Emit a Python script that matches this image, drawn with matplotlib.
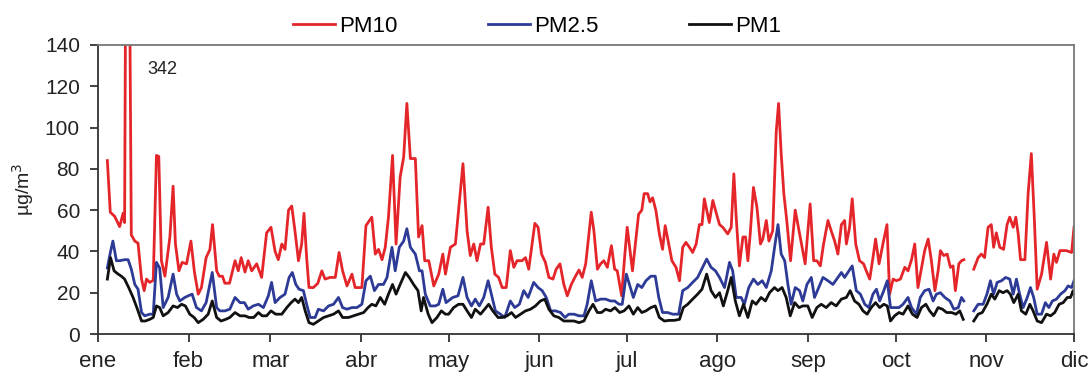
import numpy as np
import matplotlib
matplotlib.use("Agg")
import matplotlib.pyplot as plt

plt.rcParams['font.family'] = ['Liberation Sans', 'DejaVu Sans']

months = ["ene", "feb", "mar", "abr", "may", "jun", "jul", "ago", "sep", "oct", "nov", "dic"]
month_start_day = [0, 31, 59, 90, 120, 151, 181, 212, 243, 273, 304, 334]

nan = float('nan')

pm10_day = [3.2, 4.2, 5.7, 7.4, 8.6, 9.1, 10.0, 11.4, 12.6, 13.7, 14.9, 15.8, 16.6, 17.7, 18.9,
            20.0, 20.8, 21.7, 22.9, 24.6, 25.7, 26.5, 27.7, 28.8, 30.3, 31.8, 33.0, 34.3, 35.4,
            37.0, 38.3, 39.2, 40.6, 41.5, 42.6, 43.4, 45.0, 46.9, 48.0, 49.0, 50.3, 51.4, 52.6,
            54.3, 56.0, 57.7, 59.2, 60.6, 61.7, 62.9, 64.0, 65.2, 66.3, 67.4, 68.6, 69.7, 70.5,
            71.4, 72.2, 73.7, 75.2, 76.6, 77.7, 79.4, 81.2, 82.5, 83.7, 85.2, 86.9, 88.0, 90.3,
            91.7, 93.7, 94.9, 96.0, 97.2, 98.3, 99.4, 100.8, 102.0, 103.4, 104.6, 105.7, 106.9,
            108.6, 109.7, 110.9, 111.8, 113.2, 114.9, 116.6, 118.0, 118.9, 120.6, 122.3, 124.9,
            126.3, 127.4, 128.6, 129.7, 130.9, 132.0, 133.5, 134.6, 135.8, 137.1, 138.3, 139.7,
            141.1, 142.3, 143.4, 145.1, 146.3, 147.4, 149.5, 150.6, 151.8, 153.1, 154.3, 155.7,
            156.8, 158.1, 159.4, 160.6, 162.0, 163.4, 164.6, 165.7, 166.9, 168.8, 169.7, 170.9,
            172.0, 173.1, 174.3, 175.7, 176.8, 177.7, 179.2, 180.2, 181.1, 182.9, 183.9, 185.0,
            186.1, 186.9, 188.1, 188.9, 189.8, 190.9, 192.1, 193.2, 194.1, 195.3, 196.4, 197.8,
            199.0, 200.1, 201.2, 202.4, 203.5, 204.7, 205.8, 206.7, 207.5, 208.3, 209.2, 210.4,
            211.5, 212.7, 213.8, 215.5, 216.7, 217.6, 218.4, 219.5, 220.7, 221.6, 222.4, 223.2,
            224.3, 225.5, 226.7, 227.5, 228.7, 229.6, 230.9, 232.1, 232.9, 233.8, 234.7, 235.7,
            237.0, 238.6, 239.9, 240.7, 242.0, 243.7, 244.9, 246.0, 247.2, 248.3, 249.8, 250.9,
            252.1, 253.2, 254.4, 255.5, 256.1, 257.2, 258.1, 259.3, 260.6, 262.0, 262.9, 264.1,
            265.2, 266.1, 267.3, 268.6, 270.0, 270.9, 272.1, 273.2, 274.6, 276.1, 277.2, 278.4,
            279.5, 280.6, 282.1, 282.9, 284.1, 285.2, 286.4, 287.5, 288.3, 289.4, 290.6, 291.7,
            292.6, 293.4, 294.6, 295.5, 296.3, 298.0, 299.7, 301.2, 302.3, 303.4, 304.6, 305.7,
            306.5, 307.4, 308.6, 309.9, 311.1, 312.0, 313.2, 314.1, 314.9, 315.7, 317.2, 318.3,
            319.4, 320.4, 321.4, 322.9, 324.6, 326.0, 327.1, 328.0, 329.2, 331.4, 333.2, 334.0]
pm10_val = [84, 59, 57, 52, 58.5, 54, 342, 48, 45, 44, 26.6, 21, 26.6, 25, 26,
            86.5, 86, 35.5, 28, 47, 71.6, 43.6, 30.6, 34.7, 34, 45, 30, 19.3, 22.5,
            37, 41, 53, 30.6, 28, 28, 24.6, 24.6, 35.5, 30.6, 37, 30, 35.5, 30.6,
            34, 27.4, 49, 51.7, 40, 36, 43.6, 41, 60, 62, 50, 35.5, 43.6, 58.5,
            37, 22.5, 22.5, 24.5, 30.6, 26.6, 27.4, 27.4, 39.5, 30.6, 23.3, 29, 22.5, 22.5,
            52.5, 56.6, 38.7, 41, 36, 42, 56.6, 86.5, 43.6, 76, 85.7, 111.7, 85,
            85, 47, 52.5, 35.5, 35.5, 23.3, 29, 38.7, 29, 42, 43.6, 82.5,
            50, 38, 43.6, 35.5, 43.6, 43.6, 61.4, 42, 29, 27.4, 22.5, 22.5,
            40.4, 32.3, 35.5, 35.5, 37, 31.4, 53.6, 51.7, 38.7, 34.7, 27.4, 26.6,
            31.4, 34, 24.1, 18.5, 24.1, 28, 31, 27.4, 34, 59, 50, 31.4,
            34, 35.5, 32.3, 42.8, 31.4, 30.6, 18.5, 37, 51.7, 30.6, 43.6, 58,
            60, 68, 68, 64, 66, 60, 48.5, 41, 52.5, 43.6, 35.5, 32.3,
            25.8, 42, 44.4, 42, 39.5, 43.6, 53, 53, 65.5, 60, 54, 64.7,
            59, 53, 51.7, 48.5, 51.7, 77.6, 56.6, 33, 47, 47, 35.5, 48.5,
            71, 61.4, 43.6, 46, 55, 45, 50, 98, 111.7, 87.4, 68, 55,
            35.5, 60, 50, 43.6, 34, 63, 35.5, 35.5, 33, 43.6, 55, 50,
            45, 38.7, 53, 55, 43.6, 51.7, 65.5, 43.6, 35.5, 34, 30.6, 26.6,
            37, 46, 34, 43.6, 53, 19.3, 26.6, 25.8, 26.6, 32.3, 30.6, 36,
            43.6, 22.5, 34, 40.4, 46, 35.5, 21, 30.6, 40.4, 38, 38.7, 32.3,
            33, 21, 34, 35.5, 36, nan, 31.4, 37, 38.7, 37, 51.7, 53,
            42, 49, 42, 41, 53, 56.6, 51.7, 56.6, 48.5, 36, 36, 68,
            87.4, 56.6, 21.7, 29, 44.4, 26.6, 38.7, 34.7, 40.4, 40.4, 39.5, 51.7]

pm25_day = [3.2, 4.3, 5.1, 6.3, 7.4, 9.1, 10.3, 11.4, 12.6, 13.7, 14.9, 16.0, 17.7, 18.9,
            20.0, 21.1, 22.3, 24.0, 25.7, 26.9, 28.0, 29.7, 30.9, 32.2, 33.7, 35.4, 37.0, 39.1,
            40.6, 41.7, 43.4, 45.1, 46.9, 48.6, 50.1, 51.4, 53.1, 54.9, 56.6, 58.3, 59.4, 60.6,
            62.3, 64.0, 65.4, 66.5, 67.7, 68.8, 70.3, 71.4, 72.6, 74.3, 75.4, 77.2, 78.9, 80.6,
            82.3, 83.7, 85.2, 86.9, 88.6, 90.3, 91.7, 93.2, 94.6, 96.0, 97.7, 98.9, 100.6, 101.7,
            103.1, 104.6, 105.7, 106.9, 108.6, 110.0, 110.9, 112.0, 113.7, 115.4, 116.6, 118.0,
            119.1, 121.4, 123.2, 124.9, 126.3, 127.8, 129.1, 130.5, 132.0, 133.5, 134.6, 136.0,
            137.7, 139.2, 141.1, 142.6, 144.2, 145.7, 147.2, 149.1, 150.6, 152.0, 153.4, 154.9,
            156.6, 158.3, 159.8, 161.1, 162.9, 164.6, 166.3, 167.4, 168.8, 170.3, 172.0, 173.7,
            175.4, 176.8, 178.3, 179.4, 180.8, 183.2, 184.7, 186.1, 187.5, 189.2, 190.7, 191.9,
            193.2, 194.9, 196.7, 198.7, 200.1, 201.8, 203.5, 205.2, 206.9, 208.3, 209.8, 211.3,
            212.7, 214.4, 216.1, 217.2, 218.4, 220.1, 221.2, 222.7, 224.3, 225.8, 227.3, 228.7,
            230.4, 231.7, 232.7, 233.8, 235.0, 236.1, 237.2, 238.6, 240.1, 241.2, 242.6, 244.1,
            245.2, 246.4, 248.1, 249.8, 251.5, 253.2, 254.4, 255.5, 256.6, 258.1, 259.5, 260.9,
            262.4, 263.8, 265.2, 266.4, 267.5, 268.9, 270.1, 271.2, 272.6, 274.1, 275.5, 277.2,
            278.4, 280.1, 281.4, 282.9, 284.4, 285.8, 286.9, 288.3, 289.8, 291.5, 292.9, 294.4,
            295.5, 296.3, 298.0, 299.7, 301.2, 302.9, 304.2, 305.4, 306.5, 307.7, 309.2, 310.6,
            312.0, 313.2, 314.3, 315.4, 316.6, 318.0, 319.1, 320.2, 321.4, 322.9, 324.2, 325.4,
            326.6, 328.0, 329.4, 330.9, 332.0, 333.2, 334.0]
pm25_val = [32, 40, 45, 35.5, 35.5, 36, 36, 31.4, 24, 21.7, 10.4, 8.8, 9.6, 9.6,
            34.7, 32, 12.8, 17.7, 29, 19.3, 16, 17.7, 18.5, 19.3, 12.8, 11.2, 15.2, 29.8,
            12.8, 11.2, 11.2, 12, 17.7, 15.2, 15.2, 12, 13.6, 14.4, 12.8, 18.5, 25, 15.2,
            17.7, 19.3, 27.4, 29.8, 24, 21.7, 21, 14.4, 8, 8, 12, 11.2, 13.6, 14.4,
            17.7, 12.8, 12, 12.8, 12.8, 14.4, 25.8, 28, 21, 24, 24, 27.4, 42, 30.6,
            42, 45, 51, 42, 38.7, 30.6, 30.6, 19.3, 13.6, 13.6, 14.4, 21.7,
            15.2, 17.7, 18.5, 27.4, 17.7, 13.6, 16.9, 13.6, 17.7, 25.8, 19.3, 11.2,
            9.6, 8, 16, 12.8, 14.4, 21, 17.7, 25, 22.5, 21, 17.7, 11.2,
            11.2, 10.4, 8, 9.6, 9.6, 8.8, 8.8, 14.4, 25.8, 16, 16.9, 16.9,
            16, 16, 14.4, 14.4, 29, 17.7, 24, 22.5, 25.8, 28, 28, 17.7,
            10.4, 10.4, 9.6, 9.6, 21, 22.5, 25, 27.4, 32.3, 36.3, 32.3, 30.6,
            27.4, 22.5, 34.7, 30.6, 17.7, 17.7, 14.4, 22.5, 26.6, 24, 25.8, 22.5,
            30.6, 43.6, 53, 38.7, 35.5, 24, 14.4, 22.5, 21, 16, 24, 27.4,
            17.7, 21.7, 27.4, 25.8, 24, 27.4, 29.8, 27.4, 29.8, 33, 21, 19.3,
            14.4, 12.8, 19.3, 21.7, 16, 21, 25.8, 12.8, 12.8, 12.8, 14.4, 17.7,
            12.8, 9.6, 17.7, 21, 21.7, 16, 19.3, 20, 17.7, 16, 12, 12.8,
            17.7, 16, nan, 11.2, 14.4, 14.4, 19.3, 25.8, 19.3, 25, 25.8, 27.4,
            26.6, 19.3, 26.6, 19.3, 12.8, 17.7, 22.5, 17.7, 9.6, 9.6, 15.2, 12.8,
            16, 16.9, 19.3, 21, 23.3, 22.5, 25.8]

pm1_day = [3.2, 4.3, 5.5, 6.9, 8.0, 9.1, 10.5, 12.0, 13.5, 14.9, 16.2, 17.7, 18.9, 20.0,
           21.1, 22.3, 24.0, 25.7, 27.2, 28.6, 29.9, 31.4, 32.9, 34.3, 36.0, 37.7, 39.1, 40.6,
           42.1, 43.7, 45.1, 46.9, 48.6, 50.3, 51.7, 53.3, 54.9, 56.2, 57.7, 59.2, 60.8, 62.9,
           64.6, 66.1, 67.4, 68.6, 69.7, 70.9, 72.2, 73.7, 75.4, 77.2, 78.9, 80.6, 82.3, 83.7,
           85.7, 87.4, 89.2, 90.9, 92.4, 93.7, 95.1, 96.6, 98.1, 99.4, 100.8, 102.0, 103.4, 105.2,
           106.5, 108.0, 109.5, 110.6, 111.4, 113.0, 114.3, 116.0, 117.5, 118.9, 120.0, 121.7,
           123.4, 124.9, 126.3, 127.8, 129.1, 130.9, 132.3, 133.7, 135.1, 136.9, 138.3, 140.0,
           141.5, 142.9, 144.6, 146.3, 148.0, 149.7, 151.4, 152.9, 154.3, 156.0, 157.7, 159.4,
           161.1, 162.9, 164.6, 166.3, 168.0, 169.4, 170.9, 172.3, 173.7, 175.4, 176.9, 178.5,
           180.0, 181.7, 183.2, 184.7, 186.1, 187.5, 189.2, 190.7, 192.1, 193.8, 195.5, 197.2,
           199.0, 200.3, 201.8, 203.5, 205.2, 206.7, 208.3, 209.8, 211.3, 212.7, 214.0, 215.5,
           216.7, 218.1, 219.5, 220.9, 222.4, 223.9, 225.2, 226.9, 228.4, 229.8, 231.5, 232.7,
           234.1, 235.5, 236.9, 238.4, 239.9, 241.2, 242.9, 244.4, 246.0, 247.5, 249.2, 250.9,
           252.6, 254.4, 256.1, 257.4, 258.9, 260.4, 261.8, 263.2, 264.6, 266.1, 267.5, 268.9,
           270.1, 271.2, 272.6, 274.1, 275.5, 277.2, 278.7, 280.3, 281.8, 283.3, 284.6, 286.0,
           287.5, 289.0, 290.4, 292.1, 293.6, 294.9, 296.1, 298.0, 299.7, 301.2, 302.6, 304.2,
           305.7, 306.9, 308.4, 309.7, 311.1, 312.2, 313.4, 314.9, 316.0, 317.5, 318.9, 320.0,
           321.4, 322.9, 324.6, 326.0, 327.4, 328.9, 330.3, 331.7, 332.8, 333.7, 334.0]
pm1_val = [26.6, 37, 30.6, 29, 28, 26.6, 22.5, 17.7, 12, 6.3, 6.3, 7.1, 8, 13.6,
           12.8, 8.8, 10.4, 13.6, 12.8, 14.4, 13.6, 9.6, 8, 5.5, 7.1, 9.6, 16, 8,
           6.3, 7.1, 8, 10.4, 8.8, 8.8, 8, 8, 10.4, 8.8, 8.8, 11.2, 9.6, 9.6,
           12.8, 15.2, 16.9, 15.2, 17.7, 11.2, 5.5, 4.7, 6.3, 8, 8.8, 9.6, 11.2, 8,
           8, 8.8, 9.6, 10.4, 12.8, 14.4, 13.6, 17.7, 14.4, 19.3, 24, 19.3, 24, 29.8,
           27.4, 24, 21, 11.2, 17.7, 9.6, 5.5, 8, 11.2, 9.6, 9.6, 12.8,
           14.4, 14.4, 11.2, 8, 12, 9.6, 12, 14.4, 11.2, 8, 8, 8.8,
           10.4, 8, 9.6, 11.2, 12, 13.6, 16, 16.9, 12, 8.8, 8, 6.3,
           6.3, 6.3, 5.5, 6.3, 11.2, 14.4, 10.4, 10.4, 12, 11.2, 12.8, 10.4,
           11.2, 13.6, 9.6, 12.8, 10.4, 11.2, 12.8, 13.6, 8, 6.3, 6.6, 6.6,
           7.1, 12.8, 14.4, 16.9, 19.3, 21.7, 29, 21, 17.7, 20, 13.6, 21,
           27.4, 16, 8.8, 14.4, 8, 16, 14.4, 17.7, 16, 20, 22.5, 21,
           22.5, 17.7, 8.8, 15.2, 12.8, 13.6, 13.6, 8, 12.8, 14.4, 12.8, 15.2,
           13.6, 16.9, 17.7, 21, 16, 14.4, 11.2, 9.6, 12.8, 15.2, 12.8, 14.4,
           13.6, 6.3, 8.8, 10.4, 9.6, 13.6, 9.6, 8, 12.8, 14.4, 11.2, 8.8,
           12.8, 12, 10.4, 10.4, 9.6, 11.2, 7.1, nan, 6.3, 9.6, 10.4, 14.4,
           19.3, 16.9, 21, 20, 21, 19.3, 15.2, 19.3, 11.2, 9.6, 14.4, 11.2,
           6.3, 5.5, 9.6, 8.8, 10.4, 14.4, 15.2, 17.7, 17.7, 21, 19.3]

W, H = 1092, 380
fig = plt.figure(figsize=(W / 100, H / 100), dpi=100)
ax = fig.add_axes([98 / W, 1 - 334 / H, 976 / W, 289 / H])

l1, = ax.plot(pm10_day, pm10_val, color='#e4262b', lw=2.0, label='PM10')
l2, = ax.plot(pm25_day, pm25_val, color='#2d3b97', lw=2.0, label='PM2.5')
l3, = ax.plot(pm1_day, pm1_val, color='#111111', lw=2.0, label='PM1')

ax.set_xlim(0, 334)
ax.set_ylim(0, 140)
ax.set_yticks(np.arange(0, 141, 20))
ax.set_xticks(month_start_day)
ax.set_xticklabels(months)

for s in ax.spines.values():
    s.set_color('#333333')
    s.set_linewidth(1.3)
ax.spines['top'].set_color('#777777')
ax.spines['right'].set_color('#777777')

ax.tick_params(axis='y', direction='out', length=6, width=1.3, pad=7,
               labelsize=15, colors='#333333', labelcolor='#222222')
ax.tick_params(axis='x', direction='out', length=6, width=1.3, pad=6,
               labelsize=16, colors='#333333', labelcolor='#222222')

ax.set_ylabel('µg/m$^3$', fontsize=14, color='#222222')
ax.yaxis.set_label_coords(-0.064, 0.5)

ax.text(17.0, 128, '342', fontsize=13, color='#222222', ha='left', va='center')

fig.legend(handles=[l1, l2, l3], loc='center', bbox_to_anchor=(537 / W, 1 - 26 / H),
           ncol=3, frameon=False, fontsize=16, handlelength=1.9, handletextpad=0.15,
           columnspacing=4.1, borderaxespad=0, borderpad=0)

fig.savefig('out.png', dpi=100)
